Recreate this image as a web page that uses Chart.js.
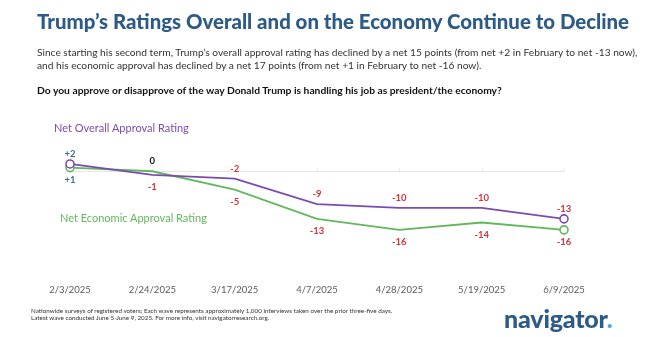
<!DOCTYPE html>
<html>
<head>
<meta charset="utf-8">
<script src="https://cdn.jsdelivr.net/npm/chart.js@4"></script>
<style>
  html, body { margin: 0; padding: 0; background: #fff; }
  body { width: 650px; height: 337px; position: relative; overflow: hidden; font-family: "Lato", "Noto Sans", sans-serif; }
  #chart { position: absolute; left: 0; top: 0; }
  .txt { position: absolute; white-space: nowrap; }
  #title { left: 37px; top: 9px; font-size: 20.4px; font-weight: 900; color: #2d5b87; }
  #sub { left: 37px; top: 46px; font-size: 10.2px; line-height: 13px; color: #333; }
  #question { left: 37px; top: 84px; font-size: 10.3px; font-weight: 700; color: #111; }
  #lblOverall { left: 54px; top: 121px; font-size: 11px; color: #7b4bb3; }
  #lblEcon { left: 60px; top: 211px; font-size: 11px; color: #62b85b; }
  #foot { left: 31px; top: 307px; font-size: 6.3px; line-height: 7px; color: #333; }
  #logo { left: 504px; top: 303px; font-size: 25px; font-weight: 900; color: #2d5b87; letter-spacing: -0.2px; }
  #logo span { color: #4aa3dc; }
</style>
</head>
<body>
<canvas id="chart" width="650" height="337"></canvas>
<div class="txt" id="title">Trump’s Ratings Overall and on the Economy Continue to Decline</div>
<div class="txt" id="sub">Since starting his second term, Trump’s overall approval rating has declined by a net 15 points (from net +2 in February to net -13 now),<br>and his economic approval has declined by a net 17 points (from net +1 in February to net -16 now).</div>
<div class="txt" id="question">Do you approve or disapprove of the way Donald Trump is handling his job as president/the economy?</div>
<div class="txt" id="lblOverall">Net Overall Approval Rating</div>
<div class="txt" id="lblEcon">Net Economic Approval Rating</div>
<div class="txt" id="foot">Nationwide surveys of registered voters; Each wave represents approximately 1,000 interviews taken over the prior three-five days.<br>Latest wave conducted June 5-June 9, 2025. For more info, visit navigatorresearch.org.</div>
<div class="txt" id="logo">navigator<span>.</span></div>
<script>
// ---------- data ----------
const waveDates = ['2/3/2025', '2/24/2025', '3/17/2025', '4/7/2025', '4/28/2025', '5/19/2025', '6/9/2025'];
const netOverall = [2, -1, -2, -9, -10, -10, -13];
const netEconomic = [1, 0, -5, -13, -16, -14, -16];

// label side for each point: -1 = above, 1 = below
const overallSide = [-1, 1, -1, -1, -1, -1, -1];
const economicSide = [1, -1, 1, 1, 1, 1, 1];

function endMarkers(n, r) {
    return Array.from({ length: n }, (_, i) => (i === 0 || i === n - 1) ? r : 0);
}

function labelColor(v) {
    if (v > 0) return '#3f6d9a';
    if (v === 0) return '#111';
    return '#d2343b';
}

// zero line with small tick marks
const zeroLinePlugin = {
    id: 'zeroLine',
    beforeDatasetsDraw(chart) {
        const { ctx, chartArea, scales } = chart;
        const y0 = Math.round(scales.y.getPixelForValue(0)) + 0.5;
        ctx.save();
        ctx.strokeStyle = '#e6e6e6';
        ctx.lineWidth = 1;
        ctx.beginPath();
        ctx.moveTo(chartArea.left, y0);
        ctx.lineTo(chartArea.right, y0);
        waveDates.forEach((d, i) => {
            const x = Math.round(scales.x.getPixelForValue(i)) + 0.5;
            ctx.moveTo(x, y0);
            ctx.lineTo(x, y0 - 3);
        });
        ctx.stroke();
        ctx.restore();
    }
};

// value labels
const valueLabelPlugin = {
    id: 'valueLabels',
    afterDatasetsDraw(chart) {
        const { ctx } = chart;
        ctx.save();
        ctx.font = 'bold 9.5px Lato, "Noto Sans", sans-serif';
        ctx.textAlign = 'center';
        ctx.textBaseline = 'middle';
        chart.data.datasets.forEach((ds, di) => {
            const meta = chart.getDatasetMeta(di);
            const sides = ds.labelSide;
            meta.data.forEach((pt, i) => {
                const v = ds.data[i];
                const txt = v > 0 ? '+' + v : String(v);
                const off = sides[i] < 0 ? -10 : 12;
                ctx.fillStyle = labelColor(v);
                ctx.fillText(txt, pt.x, pt.y + off);
            });
        });
        ctx.restore();
    }
};

new Chart(document.getElementById('chart'), {
    type: 'line',
    data: {
        labels: waveDates,
        datasets: [
            {
                label: 'Net Overall Approval Rating',
                data: netOverall,
                labelSide: overallSide,
                borderColor: '#7b4bb3',
                borderWidth: 1.8,
                pointRadius: endMarkers(netOverall.length, 4),
                pointBackgroundColor: '#fff',
                pointBorderColor: '#7b4bb3',
                pointBorderWidth: 1.6,
                tension: 0
            },
            {
                label: 'Net Economic Approval Rating',
                data: netEconomic,
                labelSide: economicSide,
                borderColor: '#62b85b',
                borderWidth: 1.8,
                pointRadius: endMarkers(netEconomic.length, 4),
                pointBackgroundColor: '#fff',
                pointBorderColor: '#62b85b',
                pointBorderWidth: 1.6,
                tension: 0
            }
        ]
    },
    options: {
        responsive: false,
        animation: false,
        layout: { padding: { left: 70, right: 86, top: 120, bottom: 38.5 } },
        plugins: {
            legend: { display: false },
            tooltip: { enabled: false }
        },
        scales: {
            x: {
                offset: false,
                grid: { display: false, tickLength: 0 },
                border: { display: false },
                ticks: {
                    color: '#5a5a5a',
                    font: { family: 'Lato, "Noto Sans", sans-serif', size: 9.5 },
                    padding: 3,
                    maxRotation: 0,
                    autoSkip: false
                }
            },
            y: {
                display: false,
                min: -30,
                max: 14
            }
        }
    },
    plugins: [zeroLinePlugin, valueLabelPlugin]
});
</script>
</body>
</html>
